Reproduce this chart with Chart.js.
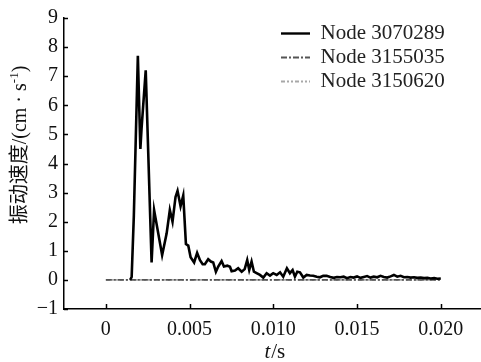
<!DOCTYPE html>
<html><head><meta charset="utf-8">
<script src="https://cdn.jsdelivr.net/npm/chart.js@4.4.1/dist/chart.umd.min.js"></script>
<style>html,body{margin:0;padding:0;background:#fff;}#wrap{width:481px;height:362px;}</style>
</head><body><div id="wrap"><canvas id="c" width="481" height="362"></canvas></div>
<script>
const seriesNames = ['Node 3070289', 'Node 3155035', 'Node 3150620'];

const time1 = [0.00145, 0.00154, 0.00167, 0.00191, 0.00206, 0.00213, 0.00238,
  0.00273, 0.00288, 0.00336, 0.00363, 0.00382, 0.00398, 0.00416, 0.00428, 0.00446, 0.00462,
  0.00478, 0.00492, 0.00506, 0.00527, 0.00545, 0.00562, 0.00578, 0.00591, 0.00611, 0.00627,
  0.00641, 0.00657, 0.00671, 0.00691, 0.00705, 0.00725, 0.00741, 0.00751, 0.00771, 0.0079,
  0.00811, 0.00829, 0.00844, 0.00856, 0.0087, 0.00884, 0.009, 0.0092, 0.0094, 0.0096,
  0.0098, 0.00999, 0.0102, 0.0104, 0.01059, 0.01081, 0.01099, 0.01115, 0.01129, 0.01143,
  0.01159, 0.01179, 0.01199, 0.01219, 0.01238, 0.01259, 0.01278, 0.01298, 0.01318, 0.0134,
  0.0136, 0.0138, 0.014, 0.0142, 0.0144, 0.0146, 0.0148, 0.015, 0.0152, 0.0154,
  0.0156, 0.0158, 0.016, 0.0162, 0.0164, 0.0166, 0.0168, 0.017, 0.0172, 0.0174,
  0.0176, 0.0178, 0.018, 0.0182, 0.0184, 0.0186, 0.0188, 0.019, 0.0192, 0.0194,
  0.0196, 0.0198, 0.02];
const velocity1 = [0, 0.1, 2.2, 7.7, 4.5, 5.2, 7.2,
  0.6, 2.4, 0.85, 1.6, 2.4, 2.0, 2.85, 3.06, 2.53, 2.9,
  1.23, 1.18, 0.78, 0.6, 0.93, 0.68, 0.54, 0.54, 0.71, 0.63,
  0.6, 0.28, 0.46, 0.65, 0.46, 0.49, 0.45, 0.3, 0.32, 0.4,
  0.28, 0.37, 0.68, 0.34, 0.63, 0.28, 0.23, 0.17, 0.08, 0.23,
  0.15, 0.23, 0.17, 0.26, 0.11, 0.4, 0.23, 0.34, 0.11, 0.28,
  0.26, 0.08, 0.17, 0.15, 0.14, 0.11, 0.09, 0.14, 0.14, 0.1,
  0.07, 0.1, 0.09, 0.11, 0.06, 0.1, 0.08, 0.12, 0.07, 0.1,
  0.13, 0.08, 0.11, 0.09, 0.14, 0.1, 0.08, 0.12, 0.17, 0.11,
  0.14, 0.09, 0.1, 0.08, 0.09, 0.07, 0.08, 0.06, 0.07, 0.05,
  0.06, 0.04, 0.05];

const time2 = [0, 0.001, 0.002, 0.003, 0.004, 0.005, 0.006, 0.007, 0.008, 0.009, 0.01,
  0.011, 0.012, 0.013, 0.014, 0.015, 0.016, 0.017, 0.018, 0.019, 0.02];
const velocity2 = [0, 0, 0, 0, 0, 0, 0, 0, 0, 0, 0, 0, 0, 0, 0, 0, 0, 0, 0, 0, 0];
const velocity3 = [0, 0, 0, 0, 0, 0, 0, 0, 0, 0, 0, 0, 0, 0, 0, 0, 0, 0, 0, 0, 0];

const xTickValues = [0, 0.005, 0.01, 0.015, 0.02];
const xTickLabels = ['0', '0.005', '0.010', '0.015', '0.020'];
const yTickValues = [-1, 0, 1, 2, 3, 4, 5, 6, 7, 8, 9];
const yTickLabels = ['\u22121', '0', '1', '2', '3', '4', '5', '6', '7', '8', '9'];

const yTitleMain = '振动速度/(cm · s';
const yTitleSup = '-1';
const yTitleEnd = ')';
const xTitleItalic = 't';
const xTitleRest = '/s';

const SERIF = "'Liberation Serif', 'Noto Sans CJK SC', serif";

function pts(ts, vs) { return ts.map((t, i) => ({ x: t, y: vs[i] })); }

const decor = {
  id: 'decor',
  afterLayout(chart) {
    const lg = chart.legend;
    if (lg) {
      lg.left = 278; lg.right = 478; lg.top = 20; lg.bottom = 120;
      lg.width = 200; lg.height = 100;
    }
  },
  afterDraw(chart) {
    const ctx = chart.ctx, xs = chart.scales.x, ys = chart.scales.y, a = chart.chartArea;
    ctx.save();
    ctx.strokeStyle = '#000';
    ctx.lineWidth = 1.5;
    xs.ticks.forEach(t => {
      const p = Math.round(xs.getPixelForValue(t.value)) + 0.5;
      ctx.beginPath(); ctx.moveTo(p, a.bottom); ctx.lineTo(p, a.bottom - 5); ctx.stroke();
    });
    ys.ticks.forEach(t => {
      const p = Math.round(ys.getPixelForValue(t.value)) + 0.5;
      ctx.beginPath(); ctx.moveTo(a.left, p); ctx.lineTo(a.left + 4, p); ctx.stroke();
    });
    // x title
    ctx.fillStyle = '#111';
    ctx.textBaseline = 'alphabetic';
    ctx.textAlign = 'left';
    const fI = "italic 21px 'Liberation Serif', serif";
    const fN = "21px 'Liberation Serif', serif";
    ctx.font = fI; const wi = ctx.measureText(xTitleItalic).width;
    ctx.font = fN; const wr = ctx.measureText(xTitleRest).width;
    const cx = (xs.getPixelForValue(0.01) + 1);
    let sx = cx - (wi + wr) / 2;
    ctx.font = fI; ctx.fillText(xTitleItalic, sx, 358);
    ctx.font = fN; ctx.fillText(xTitleRest, sx + wi + 1, 358);
    // y title
    ctx.translate(21, 145);
    ctx.rotate(-Math.PI / 2);
    const fM = "20px " + SERIF;
    const fS = "13px 'Liberation Serif', serif";
    ctx.font = fM; const w1 = ctx.measureText(yTitleMain).width;
    ctx.font = fS; const w2 = ctx.measureText(yTitleSup).width;
    ctx.font = fM; const w3 = ctx.measureText(yTitleEnd).width;
    let x = -(w1 + w2 + w3) / 2;
    ctx.textBaseline = 'middle';
    ctx.font = fM; ctx.fillText(yTitleMain, x, 0); x += w1;
    ctx.font = fS; ctx.fillText(yTitleSup, x, -6); x += w2;
    ctx.font = fM; ctx.fillText(yTitleEnd, x, 0);
    ctx.restore();
  }
};

new Chart(document.getElementById('c'), {
  type: 'line',
  data: {
    datasets: [
      { label: seriesNames[0], data: pts(time1, velocity1), borderColor: '#000', borderWidth: 2.6,
        pointRadius: 0, tension: 0, fill: false },
      { label: seriesNames[1], data: pts(time2, velocity2), borderColor: '#555555', borderWidth: 1.8,
        borderDash: [6, 2, 2, 2], pointRadius: 0, tension: 0, fill: false },
      { label: seriesNames[2], data: pts(time2, velocity3), borderColor: '#a8a8a8', borderWidth: 1.8,
        borderDash: [4, 2, 2, 2, 2, 2], pointRadius: 0, tension: 0, fill: false }
    ]
  },
  options: {
    responsive: false,
    animation: false,
    layout: { padding: { top: 17, right: 0, left: 0, bottom: 0 } },
    plugins: {
      tooltip: { enabled: false },
      legend: {
        position: 'chartArea',
        align: 'start',
        labels: {
          usePointStyle: true,
          pointStyle: 'line',
          pointStyleWidth: 29,
          boxWidth: 29,
          padding: 3,
          color: '#222',
          font: { family: SERIF, size: 21 },
          generateLabels: (chart) => {
            const items = Chart.defaults.plugins.legend.labels.generateLabels(chart);
            items.forEach((it) => {
              const ds = chart.data.datasets[it.datasetIndex];
              it.lineDash = ds.borderDash || [];
              it.lineWidth = ds.datasetIndex === 0 ? 2.2 : 2;
              it.lineWidth = it.datasetIndex === 0 ? 2.4 : 2;
              it.strokeStyle = ds.borderColor;
              it.fillStyle = ds.borderColor;
            });
            return items;
          }
        }
      }
    },
    scales: {
      x: {
        type: 'linear',
        min: -0.0025,
        max: 0.0224,
        afterBuildTicks: s => { s.ticks = xTickValues.map(v => ({ value: v })); },
        afterFit: s => { s.height = 53; },
        grid: { display: false, drawTicks: false },
        border: { display: true, color: '#000', width: 1.5 },
        ticks: {
          autoSkip: false, maxRotation: 0, padding: 9, color: '#111',
          font: { family: SERIF, size: 20 },
          callback: (v) => { const i = xTickValues.indexOf(v); return i >= 0 ? xTickLabels[i] : ''; }
        }
      },
      y: {
        min: -1,
        max: 9,
        afterBuildTicks: s => { s.ticks = yTickValues.map(v => ({ value: v })); },
        afterFit: s => { s.width = 64; },
        grid: { display: false, drawTicks: false },
        border: { display: true, color: '#000', width: 1.5 },
        ticks: {
          padding: 6, color: '#111',
          font: { family: SERIF, size: 20 },
          callback: (v) => { const i = yTickValues.indexOf(v); return i >= 0 ? yTickLabels[i] : ''; }
        }
      }
    }
  },
  plugins: [decor]
});
</script></body></html>
